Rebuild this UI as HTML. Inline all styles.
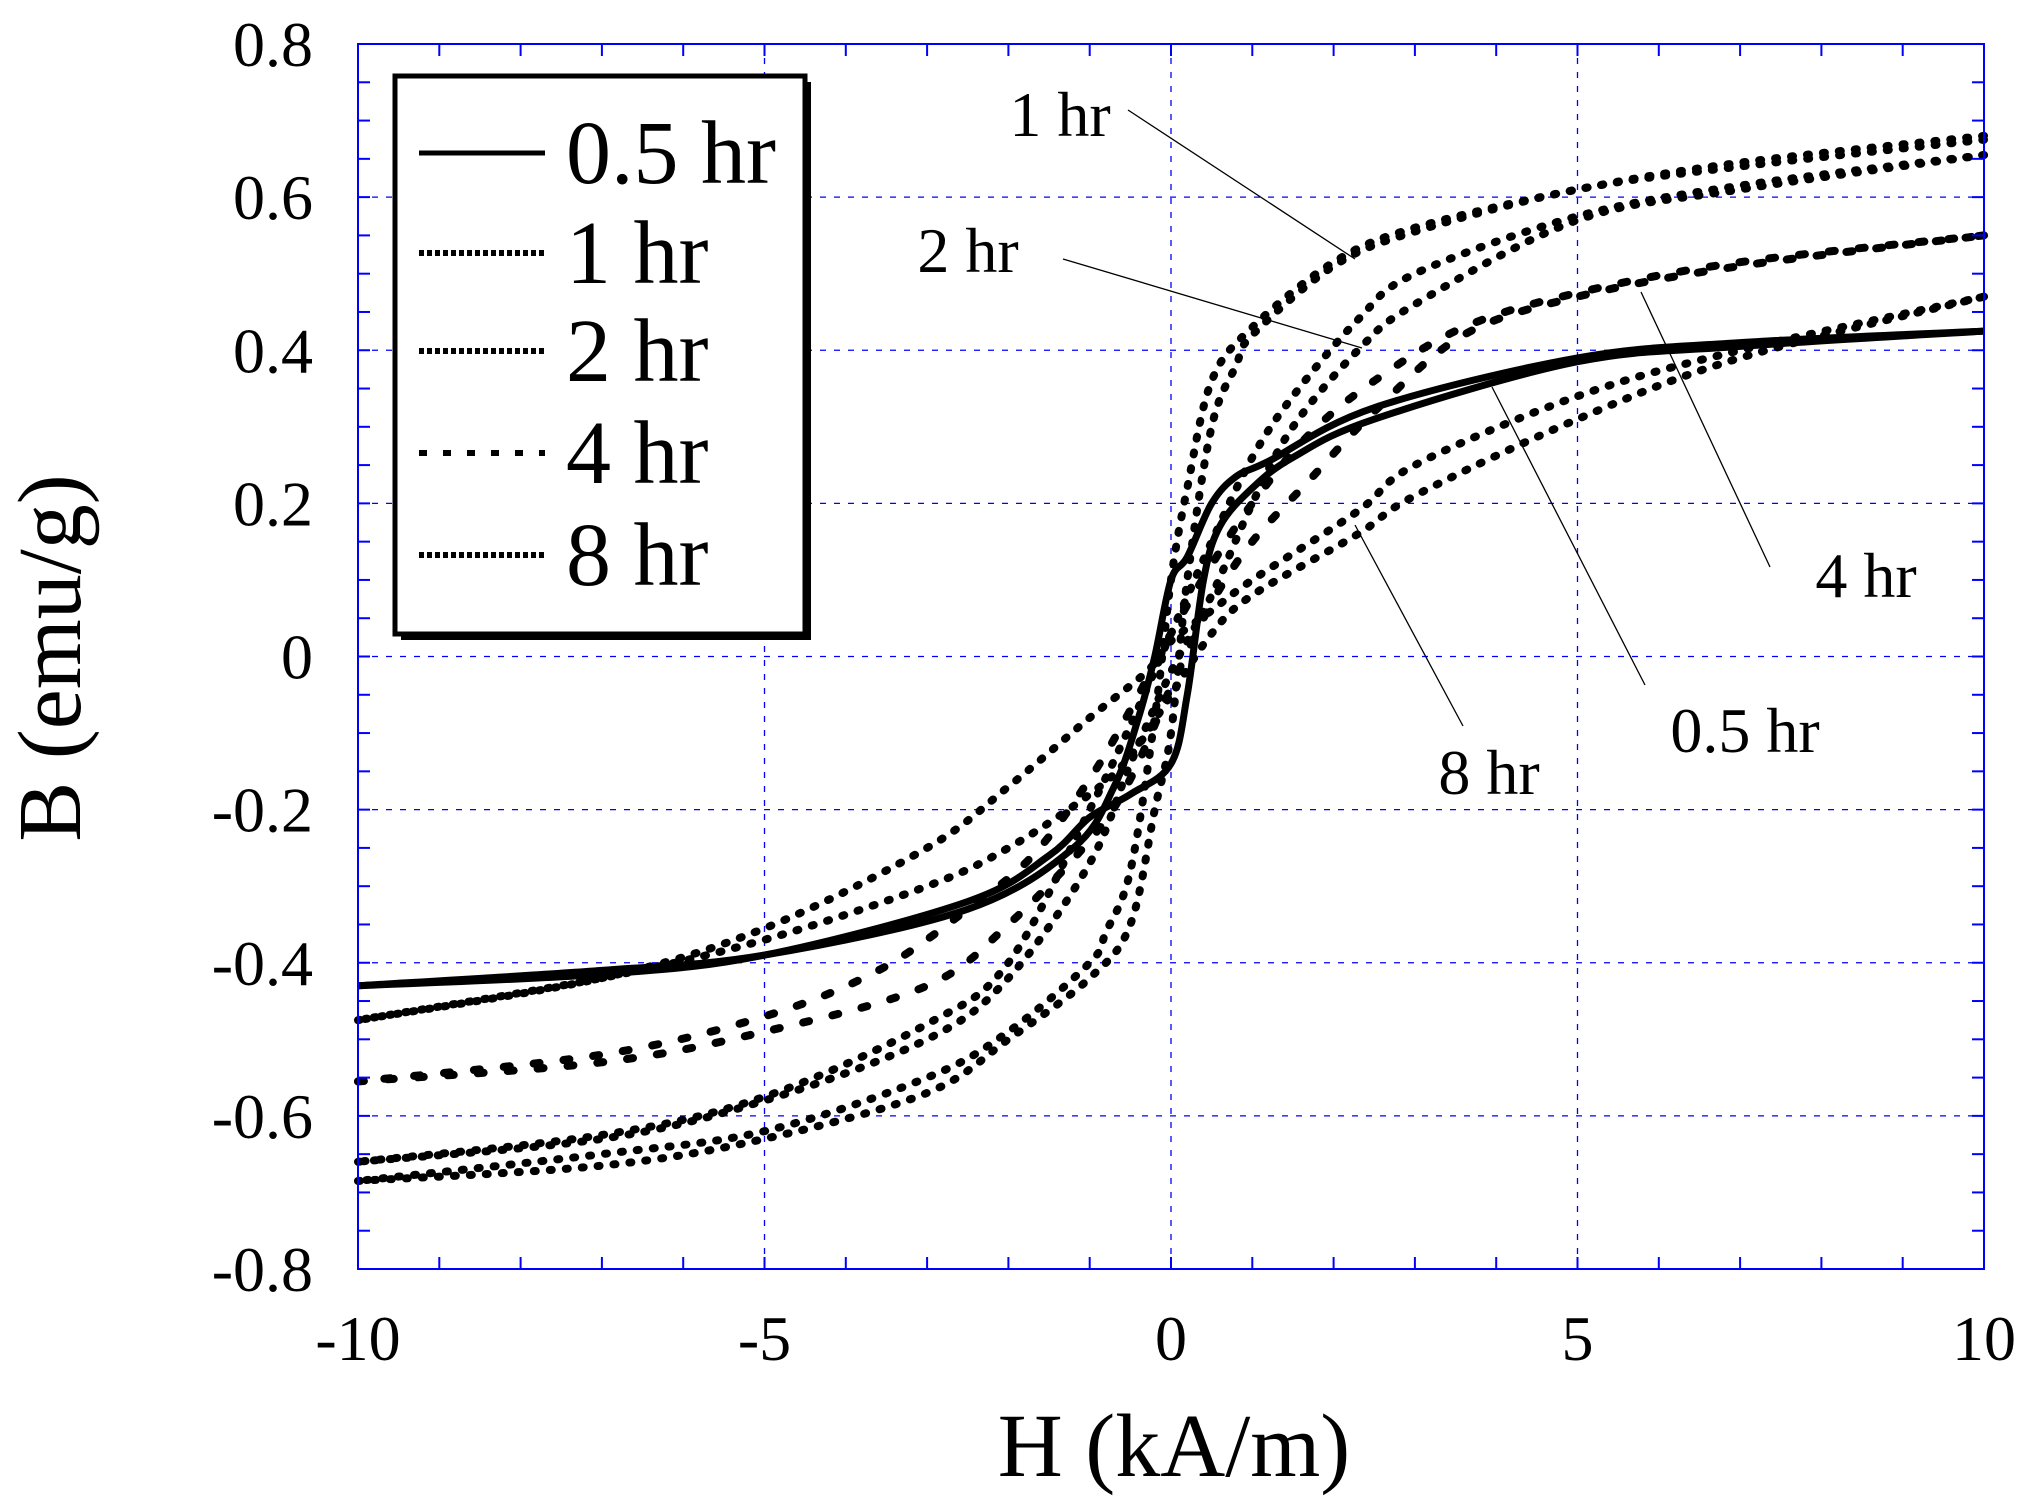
<!DOCTYPE html>
<html><head><meta charset="utf-8"><style>
html,body{margin:0;padding:0;background:#fff;}
svg{display:block;font-family:"Liberation Serif",serif;}
</style></head><body>
<svg id="chart" width="2027" height="1501" viewBox="0 0 2027 1501" xmlns="http://www.w3.org/2000/svg">
<g id="grid"></g>
<g id="curves"></g>
<g id="axes"></g>
<g id="labels"></g>
<text x="1174" y="1476" font-size="90" text-anchor="middle">H (kA/m)</text>
<text transform="translate(80,658) rotate(-90)" font-size="90" text-anchor="middle">B (emu/g)</text>
<g id="legend">
<rect x="401" y="82" width="410" height="558" fill="#000"/>
<rect x="395" y="76" width="410" height="558" fill="#fff" stroke="#000" stroke-width="5"/>
</g>
<g id="annot"></g>
</svg>
<script>
const xTicks=[-10,-5,0,5,10];
const yTicks=[-0.8,-0.6,-0.4,-0.2,0,0.2,0.4,0.6,0.8];
const yTickLabels=["-0.8","-0.6","-0.4","-0.2","0","0.2","0.4","0.6","0.8"];
const seriesNames=["0.5 hr","1 hr","2 hr","4 hr","8 hr"];
const hAsc05=[-10,-7,-5,-2.5,-1.5,-1,-0.5,0,0.2,0.4,0.6,1,1.5,2.5,5,7,10];
const bAsc05=[-0.43,-0.415,-0.39,-0.32,-0.26,-0.21,-0.18,-0.14,-0.05,0.1,0.17,0.22,0.26,0.31,0.385,0.405,0.425];
const hDesc05=[10,7,5,2.5,1.2,0.8,0.5,0.2,0,-0.2,-0.4,-0.7,-1.2,-2.5,-5,-7,-10];
const bDesc05=[0.425,0.41,0.39,0.325,0.255,0.235,0.2,0.13,0.1,0.0,-0.08,-0.17,-0.25,-0.33,-0.39,-0.41,-0.43];
const hAsc1=[-10,-7,-5,-3,-2,-1,-0.5,-0.2,0,0.2,0.5,0.8,1,2,3,5,7,10];
const bAsc1=[-0.685,-0.665,-0.63,-0.57,-0.5,-0.42,-0.35,-0.2,-0.1,0.1,0.3,0.38,0.42,0.51,0.555,0.61,0.64,0.675];
const hDesc1=[10,7,5,3,2,1,0.5,0.2,0,-0.2,-0.5,-0.8,-1,-2,-3,-5,-7,-10];
const bDesc1=[0.68,0.645,0.61,0.56,0.515,0.43,0.36,0.22,0.1,-0.08,-0.28,-0.36,-0.4,-0.49,-0.55,-0.62,-0.65,-0.685];
const hAsc2=[-10,-7,-5,-3,-2,-1,-0.5,0,0.5,1,1.5,2.3,3,5,7,10];
const bAsc2=[-0.66,-0.63,-0.58,-0.5,-0.42,-0.27,-0.14,-0.02,0.08,0.2,0.3,0.4,0.46,0.57,0.61,0.655];
const hDesc2=[10,7,5,3,2.3,1.5,1,0.5,0,-0.5,-1,-2,-3,-5,-7,-10];
const bDesc2=[0.655,0.615,0.575,0.5,0.44,0.34,0.26,0.15,0.03,-0.09,-0.2,-0.4,-0.48,-0.575,-0.625,-0.66];
const hAsc4=[-10,-7,-5,-3,-2,-1,-0.5,0,0.5,1,1.7,2.5,3.6,5,7,10];
const bAsc4=[-0.555,-0.53,-0.49,-0.43,-0.35,-0.24,-0.16,-0.04,0.07,0.15,0.23,0.32,0.42,0.47,0.51,0.55];
const hDesc4=[10,7,5,3.6,2.5,1.7,1,0.5,0,-0.5,-1,-1.7,-2.5,-3.6,-5,-7,-10];
const bDesc4=[0.55,0.515,0.475,0.43,0.36,0.29,0.2,0.12,0.03,-0.07,-0.16,-0.26,-0.33,-0.41,-0.47,-0.52,-0.555];
const hAsc8=[-10,-7,-5,-3,-2,-1,-0.5,0,0.5,1,2.3,3,5,7,10];
const bAsc8=[-0.475,-0.42,-0.37,-0.3,-0.25,-0.18,-0.13,-0.05,0.03,0.08,0.16,0.21,0.31,0.39,0.47];
const hDesc8=[10,7,5,3,2.3,1,0.5,0,-0.3,-1,-2,-3,-5,-7,-10];
const bDesc8=[0.47,0.4,0.34,0.25,0.19,0.1,0.06,0.02,-0.02,-0.08,-0.17,-0.25,-0.355,-0.42,-0.475];

const L=358,R=1984,T=44,B=1269;
const X=h=>L+(h+10)/20*(R-L);
const Y=b=>T+(0.8-b)/1.6*(B-T);
const NS="http://www.w3.org/2000/svg";
function mk(tag,parent,attrs){const e=document.createElementNS(NS,tag);for(const k in attrs)e.setAttribute(k,attrs[k]);parent.appendChild(e);return e;}
const grid=document.getElementById('grid'),axes=document.getElementById('axes'),labels=document.getElementById('labels'),curves=document.getElementById('curves'),annot=document.getElementById('annot'),legend=document.getElementById('legend');

xTicks.forEach(v=>{if(v>-10&&v<10){const l=mk('line',grid,{x1:X(v),x2:X(v),y1:T,y2:B,stroke:'#0000ff','stroke-width':1.3,'stroke-dasharray':'6 8'});

}});
yTicks.forEach(v=>{if(v>-0.8&&v<0.8){const l=mk('line',grid,{x1:L,x2:R,y1:Y(v),y2:Y(v),stroke:'#0000ff','stroke-width':1.3,'stroke-dasharray':'6 8'});

}});
const frame=mk('rect',axes,{x:L,y:T,width:R-L,height:B-T,fill:'none',stroke:'#0000ff','stroke-width':2});


for(let h=-10;h<=10;h++){[[B,B-12],[T,T+12]].forEach(p=>{const t=mk('line',axes,{x1:X(h),x2:X(h),y1:p[0],y2:p[1],stroke:'#0000ff','stroke-width':2});

});}
for(let i=0;i<=32;i++){const b=-0.8+i*0.05;[[L,L+12],[R,R-12]].forEach(p=>{const t=mk('line',axes,{x1:p[0],x2:p[1],y1:Y(b),y2:Y(b),stroke:'#0000ff','stroke-width':2});

});}
xTicks.forEach(v=>{const t=mk('text',labels,{x:X(v),y:1360,'font-size':64,'text-anchor':'middle'});t.textContent=String(v);

});
yTicks.forEach((v,i)=>{const t=mk('text',labels,{x:313,y:Y(v)+22,'font-size':64,'text-anchor':'end'});t.textContent=yTickLabels[i];

});

const styles=[{w:7,d:''},{w:8,d:'2 14'},{w:8,d:'2 14'},{w:8,d:'6 24'},{w:8,d:'2 14'}];
const branches=[[hAsc05,bAsc05,hDesc05,bDesc05],[hAsc1,bAsc1,hDesc1,bDesc1],[hAsc2,bAsc2,hDesc2,bDesc2],[hAsc4,bAsc4,hDesc4,bDesc4],[hAsc8,bAsc8,hDesc8,bDesc8]];
function smooth(hs,bs){const p=hs.map((h,i)=>[X(h),Y(bs[i])]);let d='M'+p[0][0]+' '+p[0][1];
for(let i=0;i<p.length-1;i++){const p0=p[Math.max(0,i-1)],p1=p[i],p2=p[i+1],p3=p[Math.min(p.length-1,i+2)];
d+=` C${p1[0]+(p2[0]-p0[0])/6} ${p1[1]+(p2[1]-p0[1])/6} ${p2[0]-(p3[0]-p1[0])/6} ${p2[1]-(p3[1]-p1[1])/6} ${p2[0]} ${p2[1]}`;}return d;}
branches.forEach((br,i)=>{const s=styles[i];
[[br[0],br[1],'asc'],[br[2],br[3],'desc']].forEach(q=>{const path=mk('path',curves,{d:smooth(q[0],q[1]),fill:'none',stroke:'#000','stroke-width':s.w,'stroke-dasharray':s.d,'stroke-linecap':s.d?'round':'butt'});

});});

const legY=[153,253,351,453,555];
seriesNames.forEach((n,i)=>{const s=styles[i];
const ln=mk('line',legend,{x1:419,x2:545,y1:legY[i],y2:legY[i],stroke:'#000','stroke-width':s.w-2,'stroke-dasharray':s.d?(i==3?'8 16':'5 3'):''});


const t=mk('text',legend,{x:566,y:legY[i]+30,'font-size':90});t.textContent=n;

});

const notes=[["1 hr",1060,136,1128,110,1355,259],["2 hr",968,272,1063,259,1362,348],["4 hr",1866,597,1770,567,1641,292],["0.5 hr",1745,752,1645,685,1492,387],["8 hr",1489,794,1463,726,1355,525]];
notes.forEach(a=>{const t=mk('text',annot,{x:a[1],y:a[2],'font-size':64,'text-anchor':'middle'});t.textContent=a[0];


const l=mk('line',annot,{x1:a[3],y1:a[4],x2:a[5],y2:a[6],stroke:'#000','stroke-width':1.3});

});
</script>
</body></html>
